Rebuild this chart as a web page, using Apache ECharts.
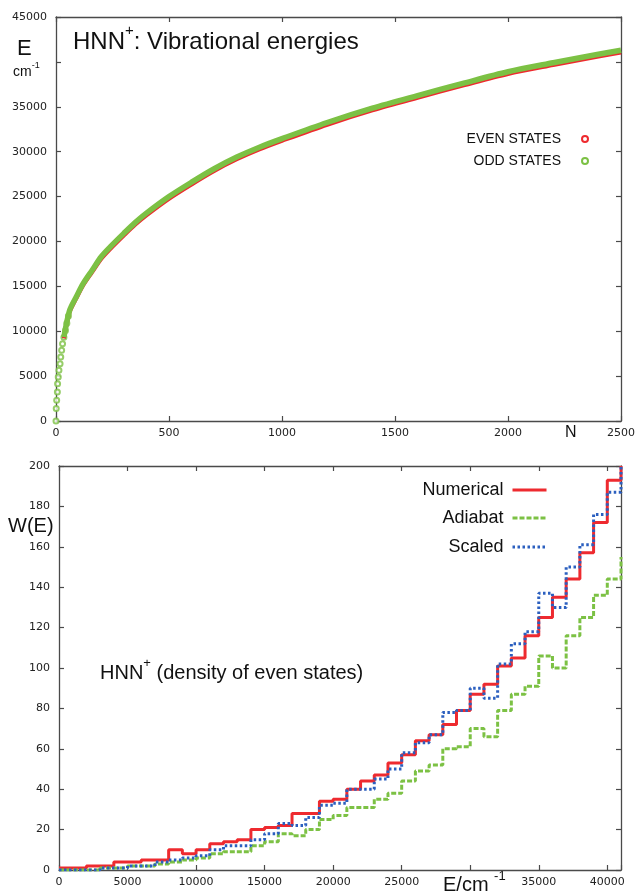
<!DOCTYPE html>
<html>
<head>
<meta charset="utf-8">
<script src="https://cdn.jsdelivr.net/npm/echarts@6/dist/echarts.min.js"></script>
<style>
html,body{margin:0;padding:0;background:#fff;}
#c{width:638px;height:895px;}
</style>
</head>
<body>
<div id="c"></div>
<script>
// ---------- Top panel: vibrational energies vs N ----------
const stateN = [35, 60, 90, 120, 160, 200, 240, 300, 350, 400, 500, 600, 700, 800, 900, 1000, 1200, 1400, 1600, 1800, 2000, 2200, 2400, 2500];
const oddE   = [9340, 12300, 13850, 15300, 16800, 18300, 19400, 20900, 22100, 23150, 25000, 26600, 28100, 29400, 30500, 31450, 33250, 34850, 36250, 37600, 38900, 39900, 40850, 41300];
const evenE  = [9200, 12100, 13650, 15100, 16580, 18050, 19150, 20650, 21850, 22900, 24750, 26350, 27850, 29150, 30250, 31200, 33000, 34600, 36000, 37350, 38650, 39650, 40600, 41050];
const lowOddN = [0, 1, 3, 6, 7, 10, 13, 18, 21, 25, 29, 35, 42, 48, 55];
const lowOddE = [0, 1380, 2300, 3230, 4150, 4900, 5640, 6380, 7120, 7870, 8600, 9340, 10080, 10900, 11700];
const topXTicks = [0, 500, 1000, 1500, 2000, 2500];
const topYHidden = [40000];

// ---------- Bottom panel: density of even states ----------
const binE = [0,1000,2000,3000,4000,5000,6000,7000,8000,9000,10000,11000,12000,13000,14000,15000,16000,17000,18000,19000,20000,21000,22000,23000,24000,25000,26000,27000,28000,29000,30000,31000,32000,33000,34000,35000,36000,37000,38000,39000,40000,41000];
const numerical = [1,1,2,2,4,4,5,5,10,8,10,13,14,15,20,21,22,28,28,34,35,40,44,47,53,57,64,67,72,79,87,92,101,105,116,125,135,144,157,172,193,200];
const adiabat   = [0,0,0,1,1,2,2,3,4,5,6,8,9,9,12,14,18,17,20,25,27,31,31,35,38,44,49,52,60,61,70,66,79,87,91,106,100,116,125,136,144,155];
const scaled    = [0,0,0,1,1,2,2,4,5,6,7,10,12,12,15,18,23,22,26,32,33,40,40,45,50,58,63,67,78,79,90,85,102,112,118,137,130,150,161,176,187,200];
const botXHidden = [30000, 41000];

const RED = '#ee2a2f', GREEN = '#7cc144', BLUE = '#2b5fbf';
const AXC = '#4a4a4a';
const FONT = 'Liberation Sans, Arial, sans-serif';
const TICKFONT = 'DejaVu Sans, sans-serif';

function ax(extra) {
  return Object.assign({
    type: 'value',
    axisLine: {show: true, onZero: false, lineStyle: {color: AXC, width: 1.3}},
    axisTick: {show: true, inside: true, length: 5, lineStyle: {color: AXC, width: 1.2}},
    splitLine: {show: false},
    axisLabel: {show: false}
  }, extra);
}
const lab = (extra) => Object.assign({show: true, color: '#222', fontFamily: TICKFONT, fontSize: 11}, extra);
const lineLegend = (top, name) => ({
  right: 85, top: top, align: 'right', itemWidth: 34, itemHeight: 14,
  itemStyle: {opacity: 0},
  lineStyle: {width: 3},
  textStyle: {fontFamily: FONT, fontSize: 18, color: '#111', padding: [0, 4, 0, 0]},
  data: [name]
});
const dotLegend = (top, name) => ({
  right: 44, top: top, orient: 'vertical', align: 'right', itemWidth: 6, itemHeight: 6,
  itemStyle: {borderWidth: 1},
  textStyle: {fontFamily: FONT, fontSize: 14, color: '#111', padding: [0, 16, 0, 0]},
  data: [{name: name, icon: 'emptyCircle'}]
});

const chart = echarts.init(document.getElementById('c'), null, {renderer: 'canvas'});
const option = {
  backgroundColor: '#fff',
  animation: false,
  grid: [
    {left: 56, top: 17, width: 566, height: 404},
    {left: 59, top: 466, width: 562, height: 404}
  ],
  xAxis: [
    ax({gridIndex: 0, position: 'bottom', min: 0, max: 2500, interval: 500,
        axisLabel: lab({margin: 7, formatter: v => topXTicks.includes(v) ? String(v) : ''})}),
    ax({gridIndex: 0, position: 'top', min: 0, max: 2500, interval: 500}),
    ax({gridIndex: 1, position: 'bottom', min: 0, max: 41000, interval: 5000,
        axisLabel: lab({margin: 7, formatter: v => botXHidden.includes(v) ? '' : String(v)})}),
    ax({gridIndex: 1, position: 'top', min: 0, max: 41000, interval: 5000})
  ],
  yAxis: [
    ax({gridIndex: 0, position: 'left', min: 0, max: 45000, interval: 5000,
        axisLabel: lab({margin: 9, formatter: v => topYHidden.includes(v) ? '' : String(v)})}),
    ax({gridIndex: 0, position: 'right', min: 0, max: 45000, interval: 5000}),
    ax({gridIndex: 1, position: 'left', min: 0, max: 200, interval: 20,
        axisLabel: lab({margin: 9})}),
    ax({gridIndex: 1, position: 'right', min: 0, max: 200, interval: 20})
  ],
  legend: [
    dotLegend(127, 'EVEN STATES'),
    dotLegend(149, 'ODD STATES'),
    lineLegend(476, 'Numerical'),
    lineLegend(504, 'Adiabat'),
    lineLegend(533, 'Scaled')
  ],
  series: [
    {name: 'EVEN STATES', type: 'line', xAxisIndex: 0, yAxisIndex: 0, smooth: 0.3,
     showSymbol: false, symbol: 'emptyCircle', color: RED, lineStyle: {color: RED, width: 4},
     data: stateN.map((n, i) => [n, evenE[i]])},
    {name: 'ODD STATES', type: 'line', xAxisIndex: 0, yAxisIndex: 0, smooth: 0.3,
     showSymbol: false, symbol: 'emptyCircle', color: GREEN, lineStyle: {color: GREEN, width: 5.5},
     data: stateN.map((n, i) => [n, oddE[i]])},
    {name: 'ODD STATES', type: 'scatter', xAxisIndex: 0, yAxisIndex: 0, symbol: 'emptyCircle', symbolSize: 5,
     itemStyle: {color: GREEN, borderColor: GREEN, borderWidth: 1},
     data: lowOddN.map((n, i) => [n, lowOddE[i]])},
    {name: 'Adiabat', type: 'line', xAxisIndex: 2, yAxisIndex: 2, step: 'end', symbol: 'none', color: GREEN,
     lineStyle: {color: GREEN, width: 3, type: [5, 2]},
     data: binE.map((e, i) => [e, adiabat[i]])},
    {name: 'Scaled', type: 'line', xAxisIndex: 2, yAxisIndex: 2, step: 'end', symbol: 'none', color: BLUE,
     lineStyle: {color: BLUE, width: 3, type: [2.5, 2.5]},
     data: binE.map((e, i) => [e, scaled[i]])},
    {name: 'Numerical', type: 'line', xAxisIndex: 2, yAxisIndex: 2, step: 'end', symbol: 'none', color: RED, z: 1,
     lineStyle: {color: RED, width: 3},
     data: binE.map((e, i) => [e, numerical[i]])}
  ],
  graphic: [
    {type: 'text', left: 73, top: 23, style: {
      text: '{a|HNN}{s|+}{a|: Vibrational energies}',
      rich: {a: {fontFamily: FONT, fontSize: 24, lineHeight: 38, fill: '#111', verticalAlign: 'middle'},
             s: {fontFamily: FONT, fontSize: 15, lineHeight: 15, fill: '#111', verticalAlign: 'top'}}}},
    {type: 'text', left: 17, top: 38, style: {text: 'E', fontFamily: FONT, fontSize: 22, fill: '#111'}},
    {type: 'text', left: 13, top: 61, style: {
      text: '{a|cm}{s|-1}',
      rich: {a: {fontFamily: FONT, fontSize: 14, lineHeight: 22, fill: '#111', verticalAlign: 'middle'},
             s: {fontFamily: FONT, fontSize: 9, lineHeight: 10, fill: '#111', verticalAlign: 'top'}}}},
    {type: 'text', left: 565, top: 425, style: {text: 'N', fontFamily: FONT, fontSize: 16, fill: '#111'}},
    {type: 'text', left: 8, top: 516, style: {text: 'W(E)', fontFamily: FONT, fontSize: 20, fill: '#111'}},
    {type: 'text', left: 100, top: 657, style: {
      text: '{a|HNN}{s|+}{a| (density of even states)}',
      rich: {a: {fontFamily: FONT, fontSize: 20, lineHeight: 32, fill: '#111', verticalAlign: 'middle'},
             s: {fontFamily: FONT, fontSize: 13, lineHeight: 13, fill: '#111', verticalAlign: 'top'}}}},
    {type: 'text', left: 443, top: 870, style: {
      text: '{a|E/cm }{s|-1}',
      rich: {a: {fontFamily: FONT, fontSize: 20, lineHeight: 30, fill: '#111', verticalAlign: 'middle'},
             s: {fontFamily: FONT, fontSize: 13, lineHeight: 13, fill: '#111', verticalAlign: 'top'}}}}
  ]
};
chart.setOption(option);
</script>
</body>
</html>
